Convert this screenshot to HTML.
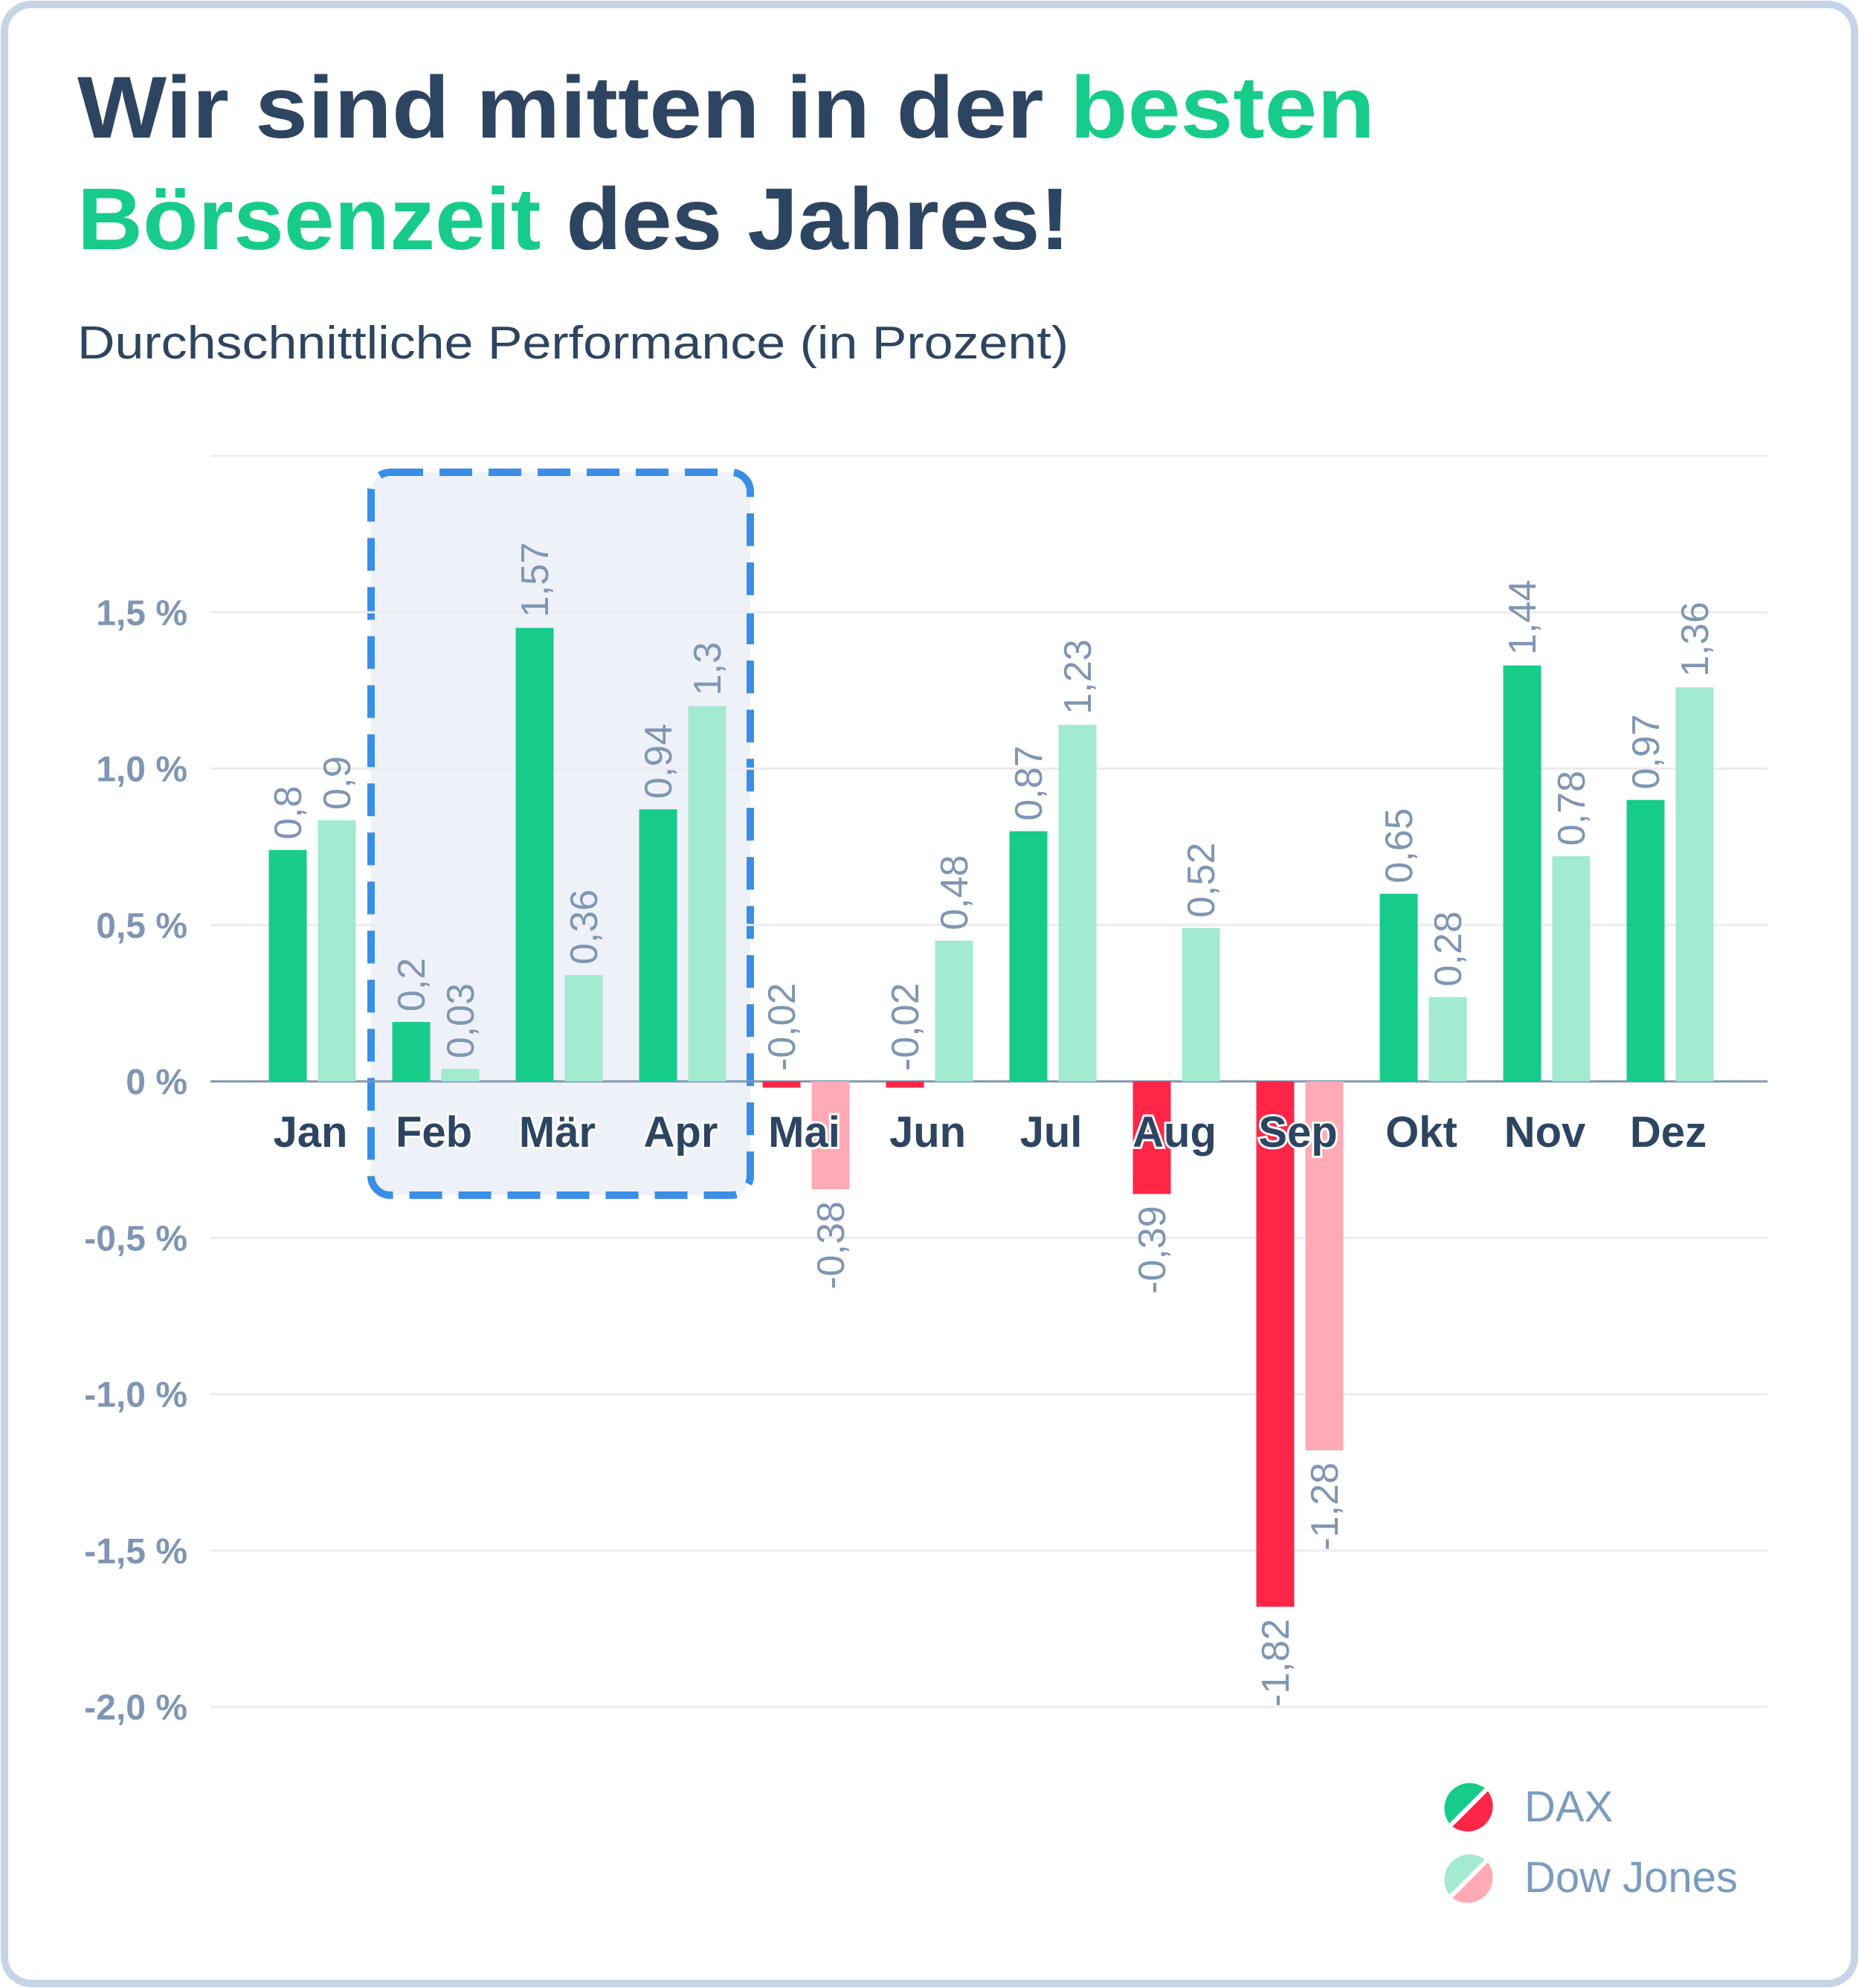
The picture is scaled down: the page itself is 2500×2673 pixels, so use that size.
<!DOCTYPE html>
<html><head><meta charset="utf-8">
<style>
html,body{margin:0;padding:0;background:#fff;}
svg{display:block;font-family:"Liberation Sans",sans-serif;}
</style></head>
<body>
<svg id="chart" width="2500" height="2673" viewBox="0 0 2500 2673" xmlns="http://www.w3.org/2000/svg">
  <rect x="6" y="6" width="2488" height="2661" rx="36" fill="#fff" stroke="#c5d5e6" stroke-width="10"/>
  <text x="104" y="185" font-size="118" font-weight="bold" fill="#2d4560" textLength="1745" lengthAdjust="spacingAndGlyphs">Wir sind mitten in der <tspan fill="#17cc8a">besten</tspan></text>
  <text x="104" y="335" font-size="118" font-weight="bold" fill="#2d4560" textLength="1335" lengthAdjust="spacingAndGlyphs"><tspan fill="#17cc8a">Börsenzeit</tspan> des Jahres!</text>
  <text x="104" y="482" font-size="62" fill="#2d4560" textLength="1333" lengthAdjust="spacingAndGlyphs">Durchschnittliche Performance (in Prozent)</text>
  <rect x="499" y="635" width="510" height="972" rx="26" fill="#eef2f8" stroke="#3a8ee6" stroke-width="10" stroke-dasharray="44,22"/>
  <g id="grid"></g>
  <g id="bars"></g>
  <g id="labels"></g>
  <g>
    <g>
      <path d="M1951,2454 A34,34 0 0 1 1999,2406 Z" fill="#17cc8a"/>
      <path d="M1951,2454 A34,34 0 0 0 1999,2406 Z" fill="#ff2647"/>
      <line x1="1947" y1="2458" x2="2003" y2="2402" stroke="#fff" stroke-width="6"/>
      <text x="2050" y="2449" font-size="58" fill="#7b9cbd">DAX</text>
    </g>
    <g>
      <path d="M1951,2550 A34,34 0 0 1 1999,2502 Z" fill="#a2ead0"/>
      <path d="M1951,2550 A34,34 0 0 0 1999,2502 Z" fill="#ffabb6"/>
      <line x1="1947" y1="2554" x2="2003" y2="2498" stroke="#fff" stroke-width="6"/>
      <text x="2050" y="2544" font-size="58" fill="#7b9cbd">Dow Jones</text>
    </g>
  </g>
</svg>
<script>
const months = ["Jan","Feb","Mär","Apr","Mai","Jun","Jul","Aug","Sep","Okt","Nov","Dez"];
const daxValues = [0.74,0.19,1.45,0.87,-0.02,-0.02,0.80,-0.36,-1.68,0.60,1.33,0.90];
const dowValues = [0.835,0.04,0.34,1.20,-0.345,0.45,1.14,0.49,-1.18,0.27,0.72,1.26];
const daxLabels = ["0,8","0,2","1,57","0,94","-0,02","-0,02","0,87","-0,39","-1,82","0,65","1,44","0,97"];
const dowLabels = ["0,9","0,03","0,36","1,3","-0,38","0,48","1,23","0,52","-1,28","0,28","0,78","1,36"];
const yTicks = [2.0,1.5,1.0,0.5,0,-0.5,-1.0,-1.5,-2.0];
const yTickLabels = ["","1,5 %","1,0 %","0,5 %","0 %","-0,5 %","-1,0 %","-1,5 %","-2,0 %"];

const NS="http://www.w3.org/2000/svg";
const y0=1454, pxPer=420.5;
const xLeft=283, xRight=2377;
function y(v){return y0 - v*pxPer;}
function xc(i){return 417.5 + i*166;}
function mk(tag, attrs, parent){const e=document.createElementNS(NS,tag);for(const k in attrs)e.setAttribute(k,attrs[k]);parent.appendChild(e);return e;}
const grid=document.getElementById('grid'), bars=document.getElementById('bars'), labels=document.getElementById('labels');

yTicks.forEach((t,i)=>{
  const l=mk('line',{x1:xLeft,x2:xRight,y1:y(t),y2:y(t),stroke:t===0?'#7f96b3':'#ececf0','stroke-width':3},grid);
  
  
  if(yTickLabels[i]){
    const tx=mk('text',{x:252,y:y(t)+17,'text-anchor':'end','font-size':48,'font-weight':'bold',fill:'#7f96b3'},grid);
    tx.textContent=yTickLabels[i];
    
    
  }
});

function drawBar(i, v, lab, isDax){
  const w=51;
  const x = isDax ? xc(i)-56 : xc(i)+10;
  const col = isDax ? (v>=0?'#17cc8a':'#ff2647') : (v>=0?'#a2ead0':'#ffabb6');
  const top=Math.min(y(v),y0), h=Math.max(Math.abs(y(v)-y0),6);
  const r=mk('rect',{x:x,y:top,width:w,height:h,fill:col},bars);
  
  
  const cx=x+w/2+18;
  let ty, anchor;
  if(v>=-0.05){ty=Math.min(y(v),y0)-14;anchor='start';}
  else {ty=y(v)+16;anchor='end';}
  const t=mk('text',{x:cx,y:ty,'font-size':52,fill:'#7f96b3','text-anchor':anchor,transform:`rotate(-90 ${cx} ${ty})`},labels);
  t.textContent=lab;
  
  
}
months.forEach((m,i)=>{
  drawBar(i,daxValues[i],daxLabels[i],true);
  drawBar(i,dowValues[i],dowLabels[i],false);
});
months.forEach((m,i)=>{
  const t=mk('text',{x:xc(i),y:1542,'text-anchor':'middle','font-size':58,'font-weight':'bold',fill:'#2d4560',stroke:'#fff','stroke-width':6,'paint-order':'stroke'},labels);
  t.textContent=m;
  
  
});
</script>
</body></html>
